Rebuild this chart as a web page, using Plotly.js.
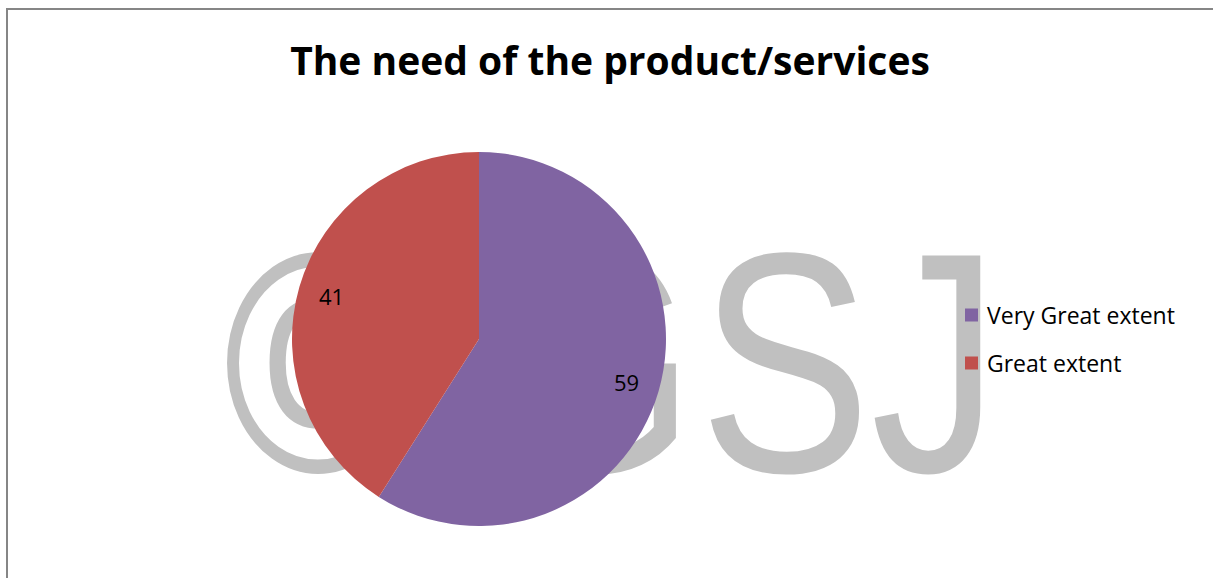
<!DOCTYPE html>
<html>
<head>
<meta charset="utf-8">
<script src="https://cdn.plot.ly/plotly-3.0.1.min.js"></script>
<style>
  html, body { margin: 0; padding: 0; background: #ffffff; }
  #chart { width: 1213px; height: 578px; }
</style>
</head>
<body>
<div id="chart"></div>
<script>
// ---- data ----
const chartTitle = "The need of the product/services";
const categories = ["Very Great extent", "Great extent"];
const values = [59, 41];
const sliceColors = ["#8064A2", "#C0504D"];
const watermarkChars = ["©", "G", "S", "J"];

// ---- layout helpers (pixel -> paper with zero margins) ----
const W = 1213, H = 578;
const px = x => x / W;
const py = y => 1 - y / H;

const pieDomain = { x: [px(292), px(666)], y: [py(526), py(152)] };

const trace = {
  type: "pie",
  labels: categories,
  values: values,
  sort: false,
  direction: "clockwise",
  rotation: 0,
  domain: pieDomain,
  marker: { colors: sliceColors, line: { width: 0 } },
  textinfo: "none",
  hoverinfo: "label+value",
  showlegend: false
};

const shapes = [];
const annotations = [];

// watermark glyphs behind the pie (layout decoration)
const wmCenters = [318, 595, 785, 935];
watermarkChars.forEach((ch, i) => {
  shapes.push({
    type: "rect", xref: "paper", yref: "paper", layer: "below",
    x0: px(wmCenters[i] - 120), x1: px(wmCenters[i] + 120), y0: py(483), y1: py(183),
    line: { width: 0 }, fillcolor: "rgba(0,0,0,0)",
    label: {
      text: ch,
      textposition: "middle center",
      font: { family: "Liberation Sans, Arial, sans-serif", size: 314, color: "#c0c0c0" }
    }
  });
});

// chart border (top and left edges)
shapes.push({ type: "line", xref: "paper", yref: "paper", x0: px(7), x1: px(7), y0: 0, y1: py(9),
  line: { color: "#868686", width: 2 } });
shapes.push({ type: "line", xref: "paper", yref: "paper", x0: px(6), x1: 1, y0: py(9), y1: py(9),
  line: { color: "#868686", width: 2 } });

// data labels at 82% of the radius, at each slice's mid-angle (clockwise from 12 o'clock)
const cxPx = (pieDomain.x[0] + pieDomain.x[1]) / 2 * W;
const cyPx = (1 - (pieDomain.y[0] + pieDomain.y[1]) / 2) * H;
const Rpx = (pieDomain.x[1] - pieDomain.x[0]) * W / 2;
const total = values.reduce((a, b) => a + b, 0);
let cum = 0;
values.forEach((v, i) => {
  const mid = (cum + v / 2) / total * 2 * Math.PI;
  cum += v;
  const r = 0.82 * Rpx;
  annotations.push({
    xref: "paper", yref: "paper",
    x: px(cxPx + r * Math.sin(mid)), y: py(cyPx - r * Math.cos(mid)),
    xanchor: "center", yanchor: "middle", showarrow: false,
    text: String(v), font: { family: "Open Sans, sans-serif", size: 22, color: "#000000" }
  });
});

// legend built from the category/colour arrays
const legendX = 965, legendY0 = 315, legendGap = 48, sq = 13;
categories.forEach((c, i) => {
  const yc = legendY0 + i * legendGap;
  shapes.push({
    type: "rect", xref: "paper", yref: "paper",
    x0: px(legendX), x1: px(legendX + sq), y0: py(yc + sq / 2), y1: py(yc - sq / 2),
    fillcolor: sliceColors[i], line: { width: 0 }
  });
  annotations.push({
    xref: "paper", yref: "paper", x: px(legendX + sq + 7), y: py(yc),
    xanchor: "left", yanchor: "middle", showarrow: false,
    text: c, font: { family: "Open Sans, sans-serif", size: 23, color: "#000000" }
  });
});

const layout = {
  width: W, height: H,
  margin: { l: 0, r: 0, t: 0, b: 0, pad: 0 },
  paper_bgcolor: "#ffffff",
  plot_bgcolor: "#ffffff",
  showlegend: false,
  title: {
    text: chartTitle,
    xref: "container", yref: "container",
    x: 610 / W, xanchor: "center",
    y: 1 - 61 / H, yanchor: "middle",
    font: { family: "Open Sans, sans-serif", size: 39, color: "#000000", weight: "bold" }
  },
  shapes: shapes,
  annotations: annotations
};

Plotly.newPlot("chart", [trace], layout, { displayModeBar: false, staticPlot: true }).then(() => {
  // the watermark face is a narrow sans: compress the glyphs horizontally around their centres
  document.querySelectorAll("#chart .layer-below text").forEach(t => {
    const b = t.getBBox();
    const c = b.x + b.width / 2;
    const prev = t.getAttribute("transform") || "";
    t.setAttribute("transform", prev + " translate(" + c + ",0) scale(0.82,1) translate(" + (-c) + ",0)");
  });
});
</script>
</body>
</html>
